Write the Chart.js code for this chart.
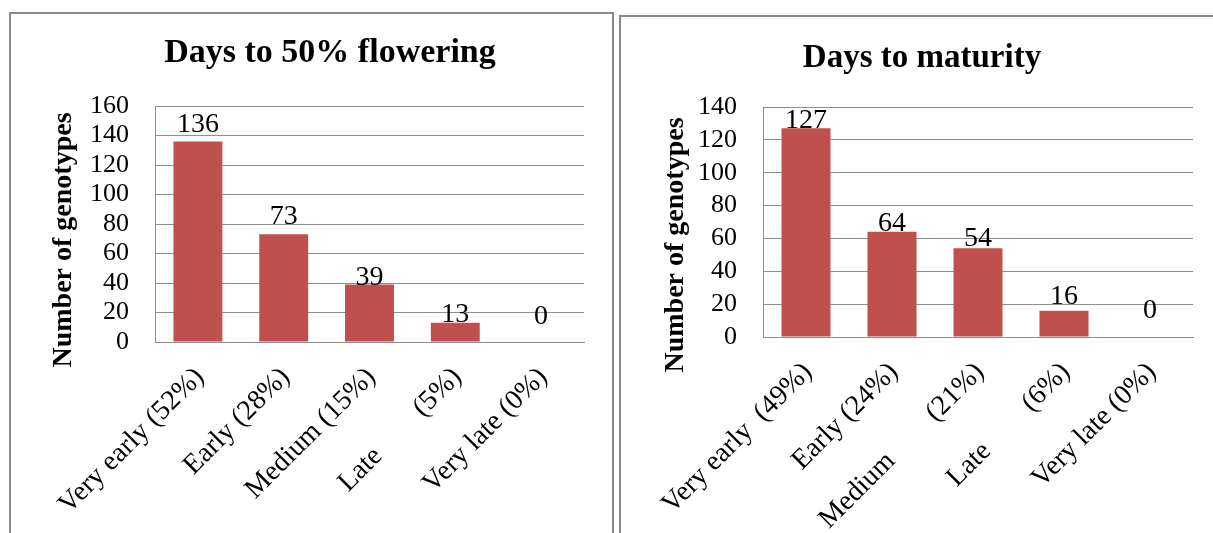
<!DOCTYPE html>
<html>
<head>
<meta charset="utf-8">
<script src="https://cdn.jsdelivr.net/npm/chart.js@4.4.1/dist/chart.umd.min.js"></script>
<style>
  html, body { margin: 0; padding: 0; background: #fff; width: 1213px; height: 533px; overflow: hidden; }
  .panel { position: absolute; box-sizing: border-box; border: 2px solid #8a8a8a; background: #fff; }
  #panelFlower { left: 9px; top: 12px; width: 605px; height: 540px; }
  #panelMature { left: 619px; top: 15px; width: 610px; height: 540px; }
  .panel canvas { position: absolute; left: 0; top: 0; }
</style>
</head>
<body>
<div class="panel" id="panelFlower"><canvas id="chartFlower" width="600" height="519"></canvas></div>
<div class="panel" id="panelMature"><canvas id="chartMature" width="592" height="516"></canvas></div>
<script>
// Genotype counts per maturity class
const flowerClasses = ['Very early (52%)', 'Early (28%)', 'Medium (15%)', 'Late        (5%)', 'Very late (0%)'];
const flowerCounts  = [136, 73, 39, 13, 0];
const flowerTicksMax = 160;

const matureClasses = ['Very early  (49%)', 'Early (24%)', 'Medium        (21%)', 'Late        (6%)', 'Very late (0%)'];
const matureCounts  = [127, 64, 54, 16, 0];
const matureTicksMax = 140;

const tickStep = 20;

// Vertical nudge (px) of each value label above its bar
const flowerLabelLift = [9, 10, -1, 1, 18];
const matureLabelLift = [0, 1, 2, 7, 19];

const SERIF = "'Liberation Serif', 'Times New Roman', serif";
const GRID = '#8e8e8e';
const BAR = '#C0504D';

// Draws the chart heading, the rotated y caption and the value above each bar
const panelText = {
  id: 'panelText',
  afterDatasetsDraw(chart, args, opts) {
    const ctx = chart.ctx;
    ctx.save();
    ctx.fillStyle = '#000';
    ctx.textAlign = 'center';
    ctx.textBaseline = 'alphabetic';

    ctx.font = 'bold ' + opts.titleSize + 'px ' + SERIF;
    ctx.fillText(opts.title, opts.titleX, opts.titleY);

    const meta = chart.getDatasetMeta(0);
    const values = chart.data.datasets[0].data;
    ctx.font = opts.valueSize + 'px ' + SERIF;
    meta.data.forEach((bar, i) => {
      ctx.fillText(String(values[i]), bar.x, bar.y - opts.lift[i]);
    });

    ctx.translate(opts.capX, opts.capY);
    ctx.rotate(-Math.PI / 2);
    ctx.font = 'bold ' + opts.capSize + 'px ' + SERIF;
    ctx.fillText(opts.caption, 0, 0);
    ctx.restore();
  }
};

function buildChart(canvasId, cfg) {
  return new Chart(document.getElementById(canvasId), {
    type: 'bar',
    data: {
      labels: cfg.labels,
      datasets: [{
        data: cfg.values,
        backgroundColor: BAR,
        borderWidth: 0,
        categoryPercentage: 1,
        barPercentage: 0.57
      }]
    },
    options: {
      responsive: false,
      animation: false,
      devicePixelRatio: 1,
      layout: { padding: { top: cfg.padTop, right: cfg.padRight, left: 0, bottom: 0 } },
      plugins: {
        legend: { display: false },
        title: { display: false },
        tooltip: { enabled: false },
        panelText: {
          title: cfg.title, titleX: cfg.titleX, titleY: cfg.titleY, titleSize: cfg.titleSize,
          caption: 'Number of genotypes', capX: cfg.capX, capY: cfg.capY, capSize: 28,
          valueSize: 28, lift: cfg.lift
        }
      },
      scales: {
        x: {
          grid: { display: false, drawTicks: false },
          border: { display: true, color: GRID, width: 1 },
          ticks: {
            autoSkip: false, minRotation: 45, maxRotation: 45, padding: 19, labelOffset: 2,
            color: '#000', font: { family: SERIF, size: 28 }
          },
          afterFit: (s) => { s.height = cfg.xHeight; }
        },
        y: {
          min: 0, max: cfg.max,
          ticks: { stepSize: tickStep, autoSkip: false, padding: 26, color: '#000', font: { family: SERIF, size: 26 } },
          grid: { color: GRID, lineWidth: 1, drawTicks: false },
          border: { display: true, color: GRID, width: 1 },
          afterFit: (s) => { s.width = cfg.yWidth; }
        }
      }
    },
    plugins: [panelText]
  });
}

buildChart('chartFlower', {
  labels: flowerClasses, values: flowerCounts, max: flowerTicksMax, lift: flowerLabelLift,
  title: 'Days to 50% flowering', titleX: 319, titleY: 48, titleSize: 34,
  capX: 60, capY: 226,
  padTop: 92, padRight: 27, yWidth: 144, xHeight: 191
});

buildChart('chartMature', {
  labels: matureClasses, values: matureCounts, max: matureTicksMax, lift: matureLabelLift,
  title: 'Days to maturity', titleX: 301, titleY: 50, titleSize: 33,
  capX: 62, capY: 228,
  padTop: 90, padRight: 20, yWidth: 142, xHeight: 196
});
</script>
</body>
</html>
